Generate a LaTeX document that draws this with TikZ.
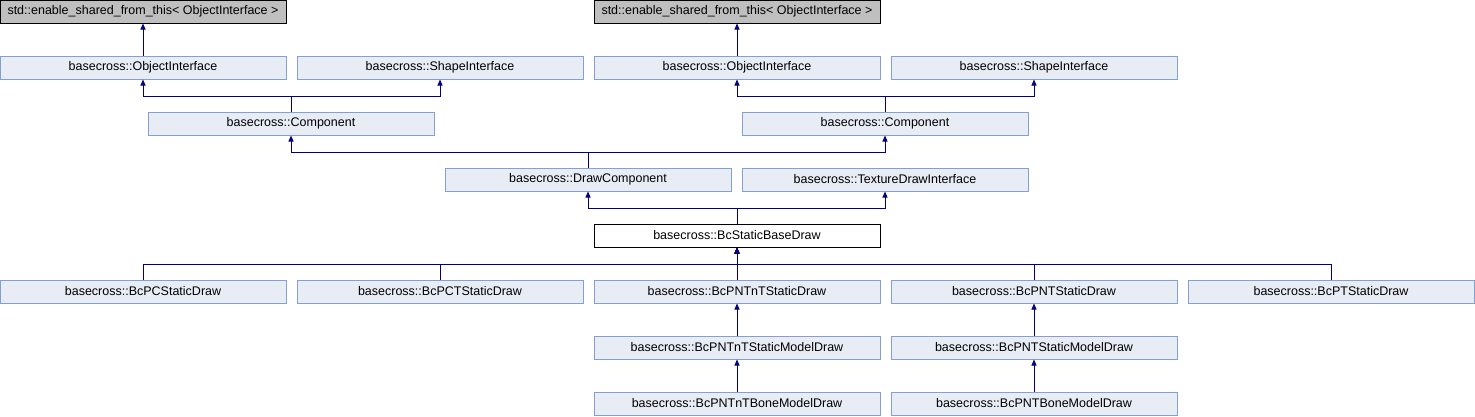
\documentclass[tikz,border=0pt]{standalone}
\usepackage{fontspec}
\setmainfont{Liberation Sans}
\usetikzlibrary{arrows.meta}
\definecolor{boxfill}{HTML}{E8ECF4}
\definecolor{boxline}{HTML}{84A0D0}
\definecolor{arrline}{HTML}{000080}
\definecolor{extfill}{HTML}{BFBFBF}
\begin{document}
\begin{tikzpicture}[x=1pt,y=-1pt,
  cls/.style={draw=boxline,fill=boxfill,line width=1pt,minimum width=286pt,minimum height=23pt,inner sep=0pt,
    font=\fontsize{12.5}{14}\selectfont},
  ext/.style={cls,draw=black,fill=extfill},
  cur/.style={cls,draw=black,fill=white},
  arr/.style={draw=arrline,line width=1pt,-{Triangle[length=6pt,width=5pt]}}]
\useasboundingbox (0,0) rectangle (1475,416);
% row 1
\node[ext] (es1) at (143,11.5) {std::enable\_shared\_from\_this< ObjectInterface >};
\node[ext] (es2) at (737,11.5) {std::enable\_shared\_from\_this< ObjectInterface >};
% row 2
\node[cls] (oi1) at (143,67.5) {basecross::ObjectInterface};
\node[cls] (si1) at (440,67.5) {basecross::ShapeInterface};
\node[cls] (oi2) at (737,67.5) {basecross::ObjectInterface};
\node[cls] (si2) at (1034,67.5) {basecross::ShapeInterface};
% row 3
\node[cls] (co1) at (291,123.5) {basecross::Component};
\node[cls] (co2) at (885,123.5) {basecross::Component};
% row 4
\node[cls] (dc) at (588,179.5) {basecross::DrawComponent};
\node[cls] (td) at (885,179.5) {basecross::TextureDrawInterface};
% row 5
\node[cur] (bs) at (737,235.5) {basecross::BcStaticBaseDraw};
% row 6
\node[cls] (pc) at (143,291.5) {basecross::BcPCStaticDraw};
\node[cls] (pct) at (440,291.5) {basecross::BcPCTStaticDraw};
\node[cls] (pntnt) at (737,291.5) {basecross::BcPNTnTStaticDraw};
\node[cls] (pnt) at (1034,291.5) {basecross::BcPNTStaticDraw};
\node[cls] (pt) at (1331,291.5) {basecross::BcPTStaticDraw};
% row 7
\node[cls] (pntntm) at (737,347.5) {basecross::BcPNTnTStaticModelDraw};
\node[cls] (pntm) at (1034,347.5) {basecross::BcPNTStaticModelDraw};
% row 8
\node[cls] (pntntb) at (737,403.5) {basecross::BcPNTnTBoneModelDraw};
\node[cls] (pntb) at (1034,403.5) {basecross::BcPNTBoneModelDraw};
% connectors
\draw[arr] (oi1.north) -- (es1.south);
\draw[arr] (oi2.north) -- (es2.south);
\draw[arr] (co1.north) -- ++(0,-15) -| (oi1.south);
\draw[arr] (co1.north) -- ++(0,-15) -| (si1.south);
\draw[arr] (co2.north) -- ++(0,-15) -| (oi2.south);
\draw[arr] (co2.north) -- ++(0,-15) -| (si2.south);
\draw[arr] (dc.north) -- ++(0,-15) -| (co1.south);
\draw[arr] (dc.north) -- ++(0,-15) -| (co2.south);
\draw[arr] (bs.north) -- ++(0,-15) -| (dc.south);
\draw[arr] (bs.north) -- ++(0,-15) -| (td.south);
\draw[arr] (pc.north) -- ++(0,-15) -| (bs.south);
\draw[arr] (pct.north) -- ++(0,-15) -| (bs.south);
\draw[arr] (pntnt.north) -- (bs.south);
\draw[arr] (pnt.north) -- ++(0,-15) -| (bs.south);
\draw[arr] (pt.north) -- ++(0,-15) -| (bs.south);
\draw[arr] (pntntm.north) -- (pntnt.south);
\draw[arr] (pntm.north) -- (pnt.south);
\draw[arr] (pntntb.north) -- (pntntm.south);
\draw[arr] (pntb.north) -- (pntm.south);
\end{tikzpicture}
\end{document}
